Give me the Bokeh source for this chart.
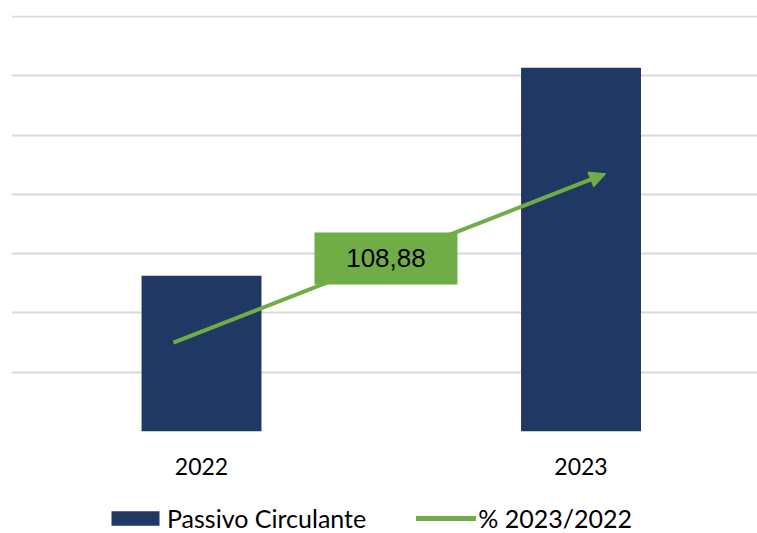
from bokeh.plotting import figure
from bokeh.layouts import column
from bokeh.models import Range1d, FixedTicker, Legend, LegendItem, Arrow, NormalHead
from bokeh.embed import file_html
from bokeh.resources import INLINE
from bokeh.core.properties import value

# ---- data ----
categories = ["2022", "2023"]
passivo_circulante = [2.63, 6.14]
grid_levels = [0, 1, 2, 3, 4, 5, 6, 7]
growth_label = "108,88"
growth_arrow_x = [-0.074, 1.065]
growth_arrow_y = [1.50, 4.35]
growth_label_x = [0.486]
growth_label_y = [2.92]
legend_labels = ["Passivo Circulante", "% 2023/2022"]

NAVY = "#203864"
GREEN = "#70AD47"
GRID = "#D9D9D9"
FONT = "Lato"

x_idx = list(range(len(categories)))

p = figure(width=757, height=480, output_backend="svg", toolbar_location=None,
           x_range=Range1d(-0.5007, 1.465), y_range=Range1d(0, 7.02),
           min_border_left=11, min_border_right=0, min_border_top=15, min_border_bottom=49)
p.outline_line_color = None
p.background_fill_color = "white"
p.border_fill_color = "white"
p.yaxis.visible = False
p.xgrid.visible = False
p.ygrid.ticker = FixedTicker(ticks=grid_levels)
p.ygrid.grid_line_color = GRID
p.ygrid.grid_line_width = 2

p.xaxis.ticker = FixedTicker(ticks=x_idx)
p.xaxis.major_label_overrides = {i: c for i, c in enumerate(categories)}
p.xaxis.axis_line_color = None
p.xaxis.major_tick_line_color = None
p.xaxis.minor_tick_line_color = None
p.xaxis.major_label_text_font = FONT
p.xaxis.major_label_text_font_size = "23px"
p.xaxis.major_label_text_color = "black"
p.xaxis.major_label_standoff = 20

p.vbar(x=x_idx, top=passivo_circulante, width=0.316, fill_color=NAVY, line_color=None)

p.add_layout(Arrow(end=NormalHead(size=16, fill_color=GREEN, line_color=GREEN, line_width=1),
                   x_start=growth_arrow_x[0], y_start=growth_arrow_y[0],
                   x_end=growth_arrow_x[1], y_end=growth_arrow_y[1],
                   line_color=GREEN, line_width=4))

p.rect(x=growth_label_x, y=growth_label_y, width=143, height=52,
       width_units="screen", height_units="screen", fill_color=GREEN, line_color=None,
       level="overlay")
p.text(x=growth_label_x, y=growth_label_y, text=[growth_label], text_align="center",
       text_baseline="middle", text_font=value("Liberation Sans"), text_font_size="26px",
       text_color="black", level="overlay")

# ---- legend strip ----
lg = figure(width=757, height=53, output_backend="svg", toolbar_location=None,
            x_range=Range1d(0, 757), y_range=Range1d(0, 53),
            min_border_left=0, min_border_right=0, min_border_top=0, min_border_bottom=0)
lg.axis.visible = False
lg.grid.visible = False
lg.outline_line_color = None
lg.background_fill_color = "white"
lg.border_fill_color = "white"
leg_bar = lg.vbar(x=[0], top=[0], width=1, fill_color=NAVY, line_color=None, visible=False)
leg_line = lg.line(x=[0, 0], y=[0, 0], line_width=5, line_color=GREEN, line_cap="round",
                   visible=False)

legend = Legend(items=[LegendItem(label=legend_labels[0], renderers=[leg_bar]),
                       LegendItem(label=legend_labels[1], renderers=[leg_line])],
                orientation="horizontal", location=(94, 0), border_line_color=None,
                background_fill_alpha=0, label_text_font=FONT, label_text_font_size="25px",
                label_text_color="black", glyph_width=60, glyph_height=18,
                spacing=50, label_standoff=2, padding=0, margin=0,
                inactive_fill_alpha=0)
lg.add_layout(legend, "center")

layout = column(p, lg, spacing=0)
open("out.html", "w").write(file_html(layout, INLINE))
